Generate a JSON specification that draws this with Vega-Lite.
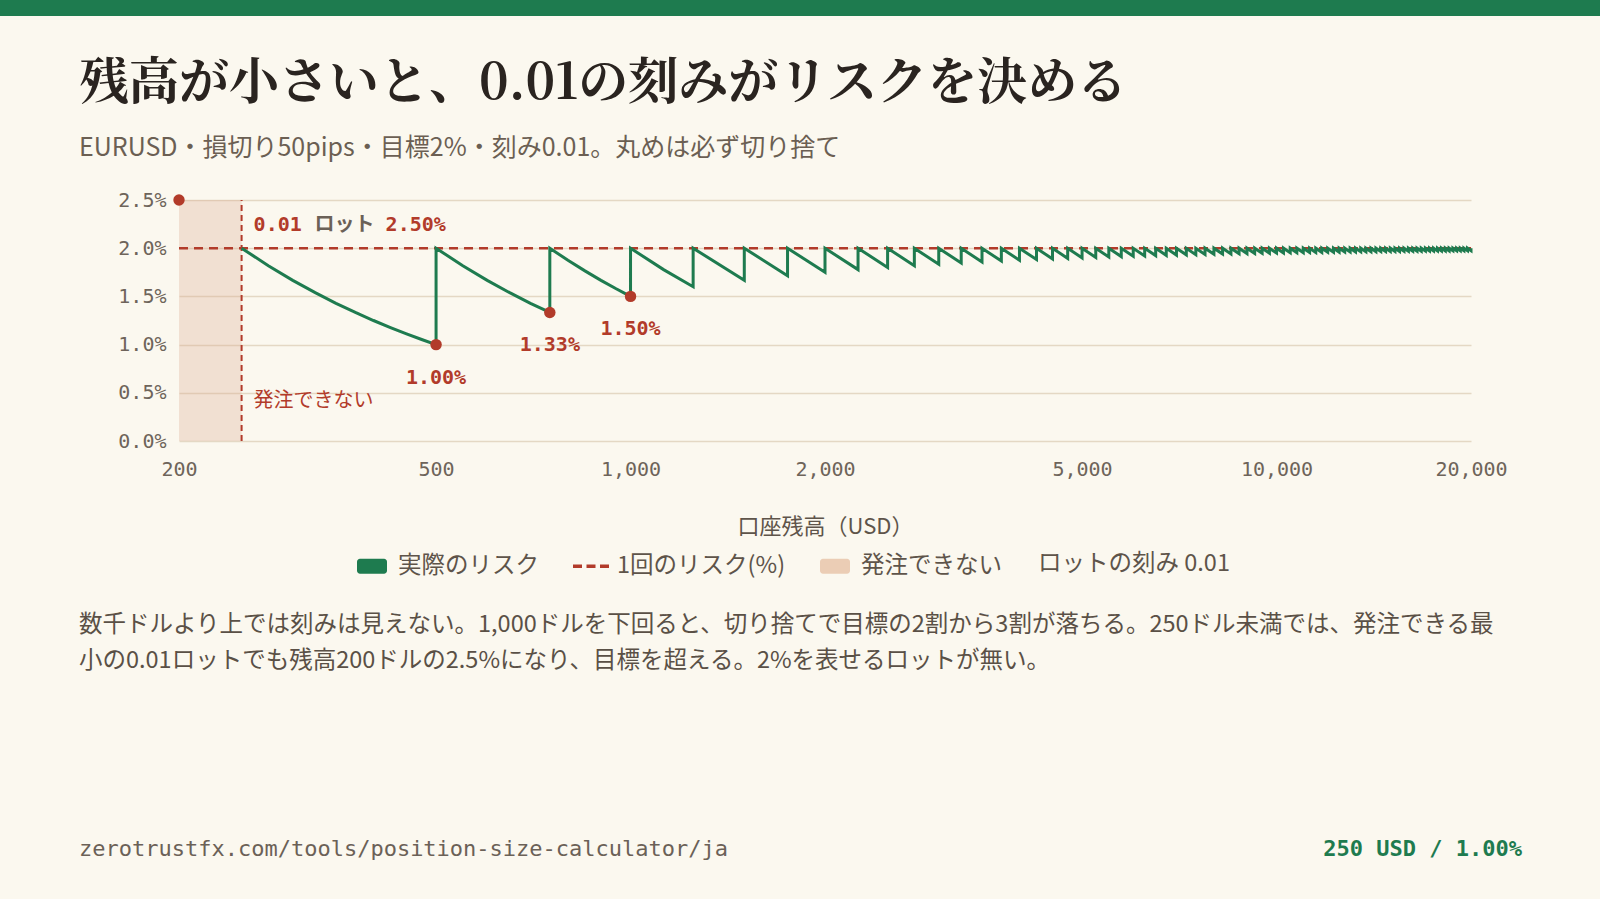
{
  "$schema": "https://vega.github.io/schema/vega-lite/v6.json",
  "background": "#fbf8ef",
  "padding": {"left": 0, "top": 0, "right": 0, "bottom": 23},
  "spacing": 43,
  "config": {
    "font": "Noto Sans CJK JP",
    "view": {"stroke": null},
    "title": {"anchor": "start", "frame": "group", "offset": 0, "font": "Noto Sans CJK JP", "fontWeight": "normal", "color": "#5a5046"},
    "axis": {
      "labelFont": "DejaVu Sans Mono", "labelFontSize": 20, "labelColor": "#6e645a",
      "domain": false, "ticks": false, "gridColor": "#e4d8c4", "gridWidth": 1.5,
      "titleFont": "Noto Sans CJK JP", "titleFontSize": 22, "titleFontWeight": "normal", "titleColor": "#5e544a"
    },
    "axisX": {"grid": false, "labelPadding": 18, "titlePadding": 37, "labelFlush": false},
    "axisY": {"grid": true, "labelPadding": 13}
  },
  "datasets": {
    "risk": [
      {"i":0,"b":250,"r":0.02},{"i":1,"b":275,"r":0.018182},{"i":2,"b":300,"r":0.016667},{"i":3,"b":325,"r":0.015385},
      {"i":4,"b":350,"r":0.014286},{"i":5,"b":375,"r":0.013333},{"i":6,"b":400,"r":0.0125},{"i":7,"b":425,"r":0.011765},
      {"i":8,"b":450,"r":0.011111},{"i":9,"b":475,"r":0.010526},{"i":10,"b":500,"r":0.01},
      {"i":11,"b":500,"r":0.02},{"i":12,"b":550,"r":0.018182},{"i":13,"b":600,"r":0.016667},{"i":14,"b":650,"r":0.015385},
      {"i":15,"b":700,"r":0.014286},{"i":16,"b":750,"r":0.013333},
      {"i":17,"b":750,"r":0.02},{"i":18,"b":800,"r":0.01875},{"i":19,"b":850,"r":0.017647},{"i":20,"b":900,"r":0.016667},
      {"i":21,"b":950,"r":0.015789},{"i":22,"b":1000,"r":0.015},
      {"i":23,"b":1000,"r":0.02},{"i":24,"b":1125,"r":0.017778},{"i":25,"b":1250,"r":0.016},
      {"i":26,"b":1250,"r":0.02},{"i":27,"b":1500,"r":0.016667},
      {"i":28,"b":1500,"r":0.02},{"i":29,"b":1750,"r":0.017143},
      {"i":30,"b":1750,"r":0.02},{"i":31,"b":2000,"r":0.0175},
      {"i":32,"b":2000,"r":0.02},{"i":33,"b":2250,"r":0.017778},
      {"i":34,"b":2250,"r":0.02},{"i":35,"b":2500,"r":0.018},
      {"i":36,"b":2500,"r":0.02},{"i":37,"b":2750,"r":0.018182},
      {"i":38,"b":2750,"r":0.02},{"i":39,"b":3000,"r":0.018333},
      {"i":40,"b":3000,"r":0.02},{"i":41,"b":3250,"r":0.018462},
      {"i":42,"b":3250,"r":0.02},{"i":43,"b":3500,"r":0.018571},
      {"i":44,"b":3500,"r":0.02},{"i":45,"b":3750,"r":0.018667},
      {"i":46,"b":3750,"r":0.02},{"i":47,"b":4000,"r":0.01875},
      {"i":48,"b":4000,"r":0.02},{"i":49,"b":4250,"r":0.018824},
      {"i":50,"b":4250,"r":0.02},{"i":51,"b":4500,"r":0.018889},
      {"i":52,"b":4500,"r":0.02},{"i":53,"b":4750,"r":0.018947},
      {"i":54,"b":4750,"r":0.02},{"i":55,"b":5000,"r":0.019},
      {"i":56,"b":5000,"r":0.02},{"i":57,"b":5250,"r":0.019048},
      {"i":58,"b":5250,"r":0.02},{"i":59,"b":5500,"r":0.019091},
      {"i":60,"b":5500,"r":0.02},{"i":61,"b":5750,"r":0.01913},
      {"i":62,"b":5750,"r":0.02},{"i":63,"b":6000,"r":0.019167},
      {"i":64,"b":6000,"r":0.02},{"i":65,"b":6250,"r":0.0192},
      {"i":66,"b":6250,"r":0.02},{"i":67,"b":6500,"r":0.019231},
      {"i":68,"b":6500,"r":0.02},{"i":69,"b":6750,"r":0.019259},
      {"i":70,"b":6750,"r":0.02},{"i":71,"b":7000,"r":0.019286},
      {"i":72,"b":7000,"r":0.02},{"i":73,"b":7250,"r":0.01931},
      {"i":74,"b":7250,"r":0.02},{"i":75,"b":7500,"r":0.019333},
      {"i":76,"b":7500,"r":0.02},{"i":77,"b":7750,"r":0.019355},
      {"i":78,"b":7750,"r":0.02},{"i":79,"b":8000,"r":0.019375},
      {"i":80,"b":8000,"r":0.02},{"i":81,"b":8250,"r":0.019394},
      {"i":82,"b":8250,"r":0.02},{"i":83,"b":8500,"r":0.019412},
      {"i":84,"b":8500,"r":0.02},{"i":85,"b":8750,"r":0.019429},
      {"i":86,"b":8750,"r":0.02},{"i":87,"b":9000,"r":0.019444},
      {"i":88,"b":9000,"r":0.02},{"i":89,"b":9250,"r":0.019459},
      {"i":90,"b":9250,"r":0.02},{"i":91,"b":9500,"r":0.019474},
      {"i":92,"b":9500,"r":0.02},{"i":93,"b":9750,"r":0.019487},
      {"i":94,"b":9750,"r":0.02},{"i":95,"b":10000,"r":0.0195},
      {"i":96,"b":10000,"r":0.02},{"i":97,"b":10250,"r":0.019512},
      {"i":98,"b":10250,"r":0.02},{"i":99,"b":10500,"r":0.019524},
      {"i":100,"b":10500,"r":0.02},{"i":101,"b":10750,"r":0.019535},
      {"i":102,"b":10750,"r":0.02},{"i":103,"b":11000,"r":0.019545},
      {"i":104,"b":11000,"r":0.02},{"i":105,"b":11250,"r":0.019556},
      {"i":106,"b":11250,"r":0.02},{"i":107,"b":11500,"r":0.019565},
      {"i":108,"b":11500,"r":0.02},{"i":109,"b":11750,"r":0.019574},
      {"i":110,"b":11750,"r":0.02},{"i":111,"b":12000,"r":0.019583},
      {"i":112,"b":12000,"r":0.02},{"i":113,"b":12250,"r":0.019592},
      {"i":114,"b":12250,"r":0.02},{"i":115,"b":12500,"r":0.0196},
      {"i":116,"b":12500,"r":0.02},{"i":117,"b":12750,"r":0.019608},
      {"i":118,"b":12750,"r":0.02},{"i":119,"b":13000,"r":0.019615},
      {"i":120,"b":13000,"r":0.02},{"i":121,"b":13250,"r":0.019623},
      {"i":122,"b":13250,"r":0.02},{"i":123,"b":13500,"r":0.01963},
      {"i":124,"b":13500,"r":0.02},{"i":125,"b":13750,"r":0.019636},
      {"i":126,"b":13750,"r":0.02},{"i":127,"b":14000,"r":0.019643},
      {"i":128,"b":14000,"r":0.02},{"i":129,"b":14250,"r":0.019649},
      {"i":130,"b":14250,"r":0.02},{"i":131,"b":14500,"r":0.019655},
      {"i":132,"b":14500,"r":0.02},{"i":133,"b":14750,"r":0.019661},
      {"i":134,"b":14750,"r":0.02},{"i":135,"b":15000,"r":0.019667},
      {"i":136,"b":15000,"r":0.02},{"i":137,"b":15250,"r":0.019672},
      {"i":138,"b":15250,"r":0.02},{"i":139,"b":15500,"r":0.019677},
      {"i":140,"b":15500,"r":0.02},{"i":141,"b":15750,"r":0.019683},
      {"i":142,"b":15750,"r":0.02},{"i":143,"b":16000,"r":0.019688},
      {"i":144,"b":16000,"r":0.02},{"i":145,"b":16250,"r":0.019692},
      {"i":146,"b":16250,"r":0.02},{"i":147,"b":16500,"r":0.019697},
      {"i":148,"b":16500,"r":0.02},{"i":149,"b":16750,"r":0.019701},
      {"i":150,"b":16750,"r":0.02},{"i":151,"b":17000,"r":0.019706},
      {"i":152,"b":17000,"r":0.02},{"i":153,"b":17250,"r":0.01971},
      {"i":154,"b":17250,"r":0.02},{"i":155,"b":17500,"r":0.019714},
      {"i":156,"b":17500,"r":0.02},{"i":157,"b":17750,"r":0.019718},
      {"i":158,"b":17750,"r":0.02},{"i":159,"b":18000,"r":0.019722},
      {"i":160,"b":18000,"r":0.02},{"i":161,"b":18250,"r":0.019726},
      {"i":162,"b":18250,"r":0.02},{"i":163,"b":18500,"r":0.01973},
      {"i":164,"b":18500,"r":0.02},{"i":165,"b":18750,"r":0.019733},
      {"i":166,"b":18750,"r":0.02},{"i":167,"b":19000,"r":0.019737},
      {"i":168,"b":19000,"r":0.02},{"i":169,"b":19250,"r":0.01974},
      {"i":170,"b":19250,"r":0.02},{"i":171,"b":19500,"r":0.019744},
      {"i":172,"b":19500,"r":0.02},{"i":173,"b":19750,"r":0.019747},
      {"i":174,"b":19750,"r":0.02},{"i":175,"b":20000,"r":0.01975},
      {"i":176,"b":20000,"r":0.02}
    ]
  },
  "vconcat": [
    {
      "width": 1600, "height": 16,
      "view": {"fill": "#1e7b4f", "stroke": null},
      "data": {"values": [{}]},
      "mark": {"type": "text", "text": ""}
    },
    {
      "spacing": 0,
      "hconcat": [
        {"width": 79, "height": 1, "data": {"values": [{}]}, "mark": {"type": "text", "text": ""}},
        {
          "columns": 1, "align": "none", "spacing": 75,
          "concat": [
            {
              "title": {
                "text": "残高が小さいと、0.01の刻みがリスクを決める",
                "subtitle": "EURUSD・損切り50pips・目標2%・刻み0.01。丸めは必ず切り捨て",
                "font": "Noto Serif CJK JP, Noto Sans CJK JP", "fontSize": 50, "fontWeight": "bold", "color": "#2a2420",
                "subtitleFont": "Noto Sans CJK JP", "subtitleFontSize": 25, "subtitleColor": "#6b5f53", "subtitlePadding": 27,
                "offset": 29
              },
              "spacing": 0,
              "hconcat": [
                {"width": 38, "height": 1, "data": {"values": [{}]}, "mark": {"type": "text", "text": ""}},
                {
                  "width": 1292, "height": 241,
                  "encoding": {
                    "x": {"field": "b", "type": "quantitative", "title": "口座残高（USD）",
                          "scale": {"type": "log", "domain": [200, 20000]},
                          "axis": {"values": [200, 500, 1000, 2000, 5000, 10000, 20000], "format": ",d"}},
                    "y": {"field": "r", "type": "quantitative", "title": null,
                          "scale": {"domain": [0, 0.025]},
                          "axis": {"values": [0, 0.005, 0.01, 0.015, 0.02, 0.025], "format": ".1%"}}
                  },
                  "layer": [
                    {
                      "data": {"values": [{"b": 200, "b2": 250, "r": 0, "r2": 0.025}]},
                      "mark": {"type": "rect", "color": "#dca890", "opacity": 0.3},
                      "encoding": {"x2": {"field": "b2"}, "y2": {"field": "r2"}}
                    },
                    {
                      "data": {"values": [{"b": 200, "b2": 20000, "r": 0.02}]},
                      "mark": {"type": "rule", "color": "#b23b2a", "strokeWidth": 2.5, "strokeDash": [9, 6]},
                      "encoding": {"x2": {"field": "b2"}}
                    },
                    {
                      "data": {"values": [{"b": 250, "r": 0, "r2": 0.025}]},
                      "mark": {"type": "rule", "color": "#b23b2a", "strokeWidth": 2, "strokeDash": [6, 4]},
                      "encoding": {"y2": {"field": "r2"}}
                    },
                    {
                      "data": {"name": "risk"},
                      "mark": {"type": "line", "color": "#1e7b4f", "strokeWidth": 3},
                      "encoding": {"order": {"field": "i", "type": "quantitative"}}
                    },
                    {
                      "data": {"values": [
                        {"b": 200, "r": 0.025}, {"b": 500, "r": 0.01}, {"b": 750, "r": 0.013333}, {"b": 1000, "r": 0.015}
                      ]},
                      "mark": {"type": "circle", "color": "#b23b2a", "size": 130, "opacity": 1},
                      "encoding": {}
                    },
                    {
                      "data": {"values": [
                        {"b": 500, "r": 0.01, "t": "1.00%"}, {"b": 750, "r": 0.013333, "t": "1.33%"}, {"b": 1000, "r": 0.015, "t": "1.50%"}
                      ]},
                      "mark": {"type": "text", "dy": 33, "font": "DejaVu Sans Mono", "fontSize": 20, "fontWeight": "bold", "color": "#b23b2a"},
                      "encoding": {"text": {"field": "t"}}
                    },
                    {
                      "data": {"values": [{"b": 250, "r": 0.02245, "t": "0.01"}]},
                      "mark": {"type": "text", "align": "left", "dx": 12, "font": "DejaVu Sans Mono", "fontSize": 20, "fontWeight": "bold", "color": "#b23b2a"},
                      "encoding": {"text": {"field": "t"}}
                    },
                    {
                      "data": {"values": [{"b": 250, "r": 0.02245, "t": "ロット"}]},
                      "mark": {"type": "text", "align": "left", "dx": 73, "font": "Noto Sans CJK JP", "fontSize": 20, "fontWeight": "bold", "color": "#6b6157"},
                      "encoding": {"text": {"field": "t"}}
                    },
                    {
                      "data": {"values": [{"b": 250, "r": 0.02245, "t": "2.50%"}]},
                      "mark": {"type": "text", "align": "left", "dx": 144, "font": "DejaVu Sans Mono", "fontSize": 20, "fontWeight": "bold", "color": "#b23b2a"},
                      "encoding": {"text": {"field": "t"}}
                    },
                    {
                      "data": {"values": [{"b": 250, "r": 0.00415, "t": "発注できない"}]},
                      "mark": {"type": "text", "align": "left", "dx": 12, "font": "Noto Sans CJK JP", "fontSize": 20, "color": "#b23b2a"},
                      "encoding": {"text": {"field": "t"}}
                    },
                    {
                      "data": {"values": [{"item": "実際のリスク"}, {"item": "1回のリスク(%)"}, {"item": "発注できない"}]},
                      "transform": [{"filter": "false"}],
                      "mark": {"type": "point", "filled": true},
                      "encoding": {
                        "color": {
                          "field": "item", "type": "nominal",
                          "scale": {"domain": ["実際のリスク", "1回のリスク(%)", "発注できない"], "range": ["#1e7b4f", "#b23b2a", "#ebcdb5"]},
                          "legend": {
                            "orient": "none", "legendX": 357, "legendY": 551, "direction": "horizontal", "padding": 0,
                            "title": "ロットの刻み 0.01", "titleOrient": "right", "titlePadding": 36, "titleLimit": 400,
                            "titleFont": "Noto Sans CJK JP", "titleFontSize": 23.5, "titleFontWeight": "normal", "titleColor": "#5e544a",
                            "labelFont": "Noto Sans CJK JP", "labelFontSize": 23.5, "labelColor": "#5e544a", "labelLimit": 400,
                            "labelOffset": 11, "columnPadding": 34, "symbolSize": 900, "symbolStrokeWidth": 0, "symbolOpacity": 1
                          }
                        },
                        "shape": {
                          "field": "item", "type": "nominal",
                          "scale": {
                            "domain": ["実際のリスク", "1回のリスク(%)", "発注できない"],
                            "range": [
                              "M-0.8,-0.5H0.8A0.2,0.2,0,0,1,1,-0.3V0.3A0.2,0.2,0,0,1,0.8,0.5H-0.8A0.2,0.2,0,0,1,-1,0.3V-0.3A0.2,0.2,0,0,1,-0.8,-0.5Z",
                              "M-1.2,-0.12H-0.6V0.12H-1.2Z M-0.3,-0.12H0.3V0.12H-0.3Z M0.6,-0.12H1.2V0.12H0.6Z",
                              "M-0.8,-0.5H0.8A0.2,0.2,0,0,1,1,-0.3V0.3A0.2,0.2,0,0,1,0.8,0.5H-0.8A0.2,0.2,0,0,1,-1,0.3V-0.3A0.2,0.2,0,0,1,-0.8,-0.5Z"
                            ]
                          },
                          "legend": {
                            "orient": "none", "legendX": 357, "legendY": 551, "direction": "horizontal", "padding": 0,
                            "title": "ロットの刻み 0.01", "titleOrient": "right", "titlePadding": 36, "titleLimit": 400,
                            "titleFont": "Noto Sans CJK JP", "titleFontSize": 23.5, "titleFontWeight": "normal", "titleColor": "#5e544a",
                            "labelFont": "Noto Sans CJK JP", "labelFontSize": 23.5, "labelColor": "#5e544a", "labelLimit": 400,
                            "labelOffset": 11, "columnPadding": 34, "symbolSize": 900, "symbolStrokeWidth": 0, "symbolOpacity": 1
                          }
                        }
                      }
                    }
                  ]
                }
              ]
            },
            {
              "width": 1292, "height": 86,
              "title": {
                "text": [
                  "数千ドルより上では刻みは見えない。1,000ドルを下回ると、切り捨てで目標の2割から3割が落ちる。250ドル未満では、発注できる最",
                  "小の0.01ロットでも残高200ドルの2.5%になり、目標を超える。2%を表せるロットが無い。"
                ],
                "fontSize": 23.5, "lineHeight": 36, "color": "#5a5046"
              },
              "data": {"values": [{}]},
              "mark": {"type": "text", "text": ""}
            },
            {
              "spacing": 0,
              "hconcat": [
                {
                  "width": 700, "height": 1,
                  "title": {"text": "zerotrustfx.com/tools/position-size-calculator/ja", "font": "DejaVu Sans Mono", "fontSize": 22, "color": "#6b6157"},
                  "data": {"values": [{}]},
                  "mark": {"type": "text", "text": ""}
                },
                {
                  "width": 743, "height": 1,
                  "title": {"text": "250 USD / 1.00%", "anchor": "end", "font": "DejaVu Sans Mono", "fontSize": 22, "fontWeight": "bold", "color": "#1e7b4f"},
                  "data": {"values": [{}]},
                  "mark": {"type": "text", "text": ""}
                }
              ]
            }
          ]
        }
      ]
    }
  ]
}
